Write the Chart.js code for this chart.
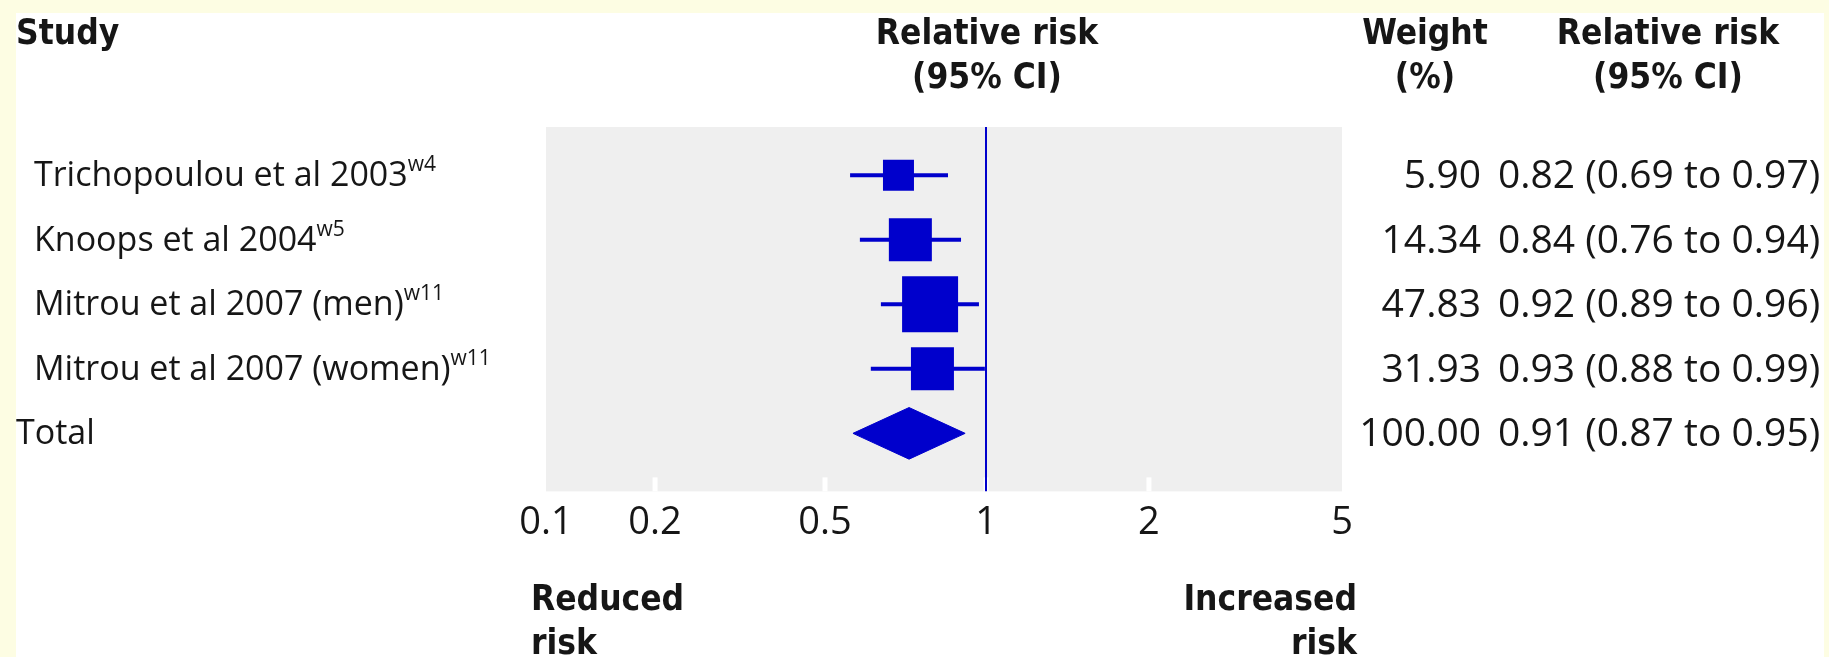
<!DOCTYPE html>
<html>
<head>
<meta charset="utf-8">
<script src="https://cdn.jsdelivr.net/npm/chart.js@4"></script>
<style>
    html, body { margin: 0; padding: 0; }
    body {
        width: 1829px; height: 657px; position: relative; overflow: hidden;
        background: #fdfde3; color: #161616;
        font-family: "Open Sans", "Noto Sans", sans-serif;
    }
    #paper { position: absolute; left: 16px; top: 13px; width: 1808px; height: 644px; background: #fff; }
    #chart { position: absolute; left: 0; top: 0; }
    .t { position: absolute; white-space: nowrap; }
    .hd { font-family: "DejaVu Sans Condensed", "DejaVu Sans", sans-serif; font-weight: bold; font-size: 35px; line-height: 44px; }
    .row { font-size: 34px; line-height: 44px; }
    .num { font-size: 39px; line-height: 44px; }
    .row sup { font-size: 21px; line-height: 0; vertical-align: 0; position: relative; top: -15px; }
</style>
</head>
<body>
<div id="paper"></div>
<canvas id="chart" width="1829" height="657"></canvas>

<div class="t hd" style="left:16px; top:10px;">Study</div>
<div class="t hd" style="left:837px; top:10px; width:300px; text-align:center;">Relative risk<br>(95% CI)</div>
<div class="t hd" style="left:1325px; top:10px; width:200px; text-align:center;">Weight<br>(%)</div>
<div class="t hd" style="left:1518px; top:10px; width:300px; text-align:center;">Relative risk<br>(95% CI)</div>
<div class="t hd" style="left:531px; top:576px;">Reduced<br>risk</div>
<div class="t hd" style="right:472px; top:576px; text-align:right;">Increased<br>risk</div>

<div id="rows"></div>

<script>
// Study rows, top to bottom (last row is the pooled total)
const studies = ['Trichopoulou et al 2003', 'Knoops et al 2004', 'Mitrou et al 2007 (men)', 'Mitrou et al 2007 (women)', 'Total'];
const refs = ['w4', 'w5', 'w11', 'w11', ''];
const weights = ['5.90', '14.34', '47.83', '31.93', '100.00'];
const rrText = ['0.82 (0.69 to 0.97)', '0.84 (0.76 to 0.94)', '0.92 (0.89 to 0.96)', '0.93 (0.88 to 0.99)', '0.91 (0.87 to 0.95)'];

// Where the marks sit on the figure's axis
const plotEst = [0.686, 0.722, 0.786, 0.794, 0.718];
const plotLow = [0.557, 0.581, 0.636, 0.609, 0.564];
const plotHigh = [0.849, 0.898, 0.970, 0.995, 0.914];

const tickValues = [0.1, 0.2, 0.5, 1, 2, 5];

// The printed axis is not evenly spaced: fraction of the axis width at each tick
const tickStops = [0, 0.137, 0.3505, 0.5528, 0.7575, 1];
const boxSide = [31, 43, 56, 43];   // px, square markers
const BLUE = '#0000cc';
const Y_MIN = -0.75, Y_MAX = 4.9;
const TOTAL = studies.length - 1;

// piecewise log scale running through the printed tick positions
class ForestLogScale extends Chart.LinearScale {
    determineDataLimits() {
        this.min = tickValues[0];
        this.max = tickValues[tickValues.length - 1];
    }
    buildTicks() {
        return tickValues.map(v => ({ value: v }));
    }
    toDecimal(v) {
        const lv = Math.log10(v);
        let i = 0;
        while (i < tickValues.length - 2 && v > tickValues[i + 1]) i++;
        const a = Math.log10(tickValues[i]), b = Math.log10(tickValues[i + 1]);
        return tickStops[i] + (lv - a) / (b - a) * (tickStops[i + 1] - tickStops[i]);
    }
    getPixelForValue(v) {
        return this.getPixelForDecimal(this.toDecimal(v));
    }
    getValueForPixel(p) {
        const d = this.getDecimalForPixel(p);
        let i = 0;
        while (i < tickStops.length - 2 && d > tickStops[i + 1]) i++;
        const a = Math.log10(tickValues[i]), b = Math.log10(tickValues[i + 1]);
        return Math.pow(10, a + (d - tickStops[i]) / (tickStops[i + 1] - tickStops[i]) * (b - a));
    }
}
ForestLogScale.id = 'forestlog';
ForestLogScale.defaults = Chart.LinearScale.defaults;
Chart.register(ForestLogScale);

// row texts
const rowsEl = document.getElementById('rows');
const rowEls = studies.map((s, i) => {
    const lab = document.createElement('div');
    lab.className = 't row';
    lab.style.left = (i === TOTAL ? 16 : 34) + 'px';
    lab.innerHTML = s + (refs[i] ? '<sup>' + refs[i] + '</sup>' : '');
    const w = document.createElement('div');
    w.className = 't num';
    w.style.right = '348px';
    w.textContent = weights[i];
    const rr = document.createElement('div');
    rr.className = 't num';
    rr.style.left = '1498px';
    rr.textContent = rrText[i];
    rowsEl.append(lab, w, rr);
    return [lab, w, rr];
});

const plotBg = {
    id: 'plotBg',
    beforeDatasetsDraw(chart) {
        const { ctx, chartArea: a, scales: { x } } = chart;
        ctx.save();
        ctx.fillStyle = '#efefef';
        ctx.fillRect(a.left, a.top, a.right - a.left, a.bottom - a.top);
        ctx.fillStyle = '#ffffff';
        tickValues.slice(1, -1).forEach(v => {
            const px = x.getPixelForValue(v);
            ctx.fillRect(px - 2.5, a.bottom - 14, 5, 14);
        });
        ctx.restore();
    },
    afterLayout(chart) {
        const y = chart.scales.y;
        rowEls.forEach((els, i) => {
            const py = y.getPixelForValue(i);
            els.forEach(el => { el.style.top = (py - 24) + 'px'; });
        });
    }
};

const whiskers = studies.slice(0, TOTAL).map((s, i) => ({
    type: 'line',
    data: [{ x: plotLow[i], y: i }, { x: plotHigh[i], y: i }],
    borderColor: BLUE, borderWidth: 4, pointRadius: 0, order: 2
}));

new Chart(document.getElementById('chart'), {
    type: 'scatter',
    data: {
        datasets: [
            {
                type: 'line',
                data: [{ x: 1, y: Y_MIN }, { x: 1, y: Y_MAX }],
                borderColor: BLUE, borderWidth: 2, pointRadius: 0, order: 3
            },
            ...whiskers,
            {
                data: plotEst.slice(0, TOTAL).map((v, i) => ({ x: v, y: i })),
                pointStyle: 'rect',
                pointRadius: boxSide.map(s => s / Math.SQRT2),
                backgroundColor: BLUE, borderWidth: 0, order: 1
            },
            {
                type: 'line',
                data: [
                    { x: plotLow[TOTAL], y: TOTAL },
                    { x: plotEst[TOTAL], y: TOTAL - 0.4 },
                    { x: plotHigh[TOTAL], y: TOTAL },
                    { x: plotEst[TOTAL], y: TOTAL + 0.4 },
                    { x: plotLow[TOTAL], y: TOTAL }
                ],
                borderColor: BLUE, backgroundColor: BLUE, borderWidth: 1,
                fill: 'shape', tension: 0, pointRadius: 0, order: 1
            }
        ]
    },
    options: {
        responsive: false,
        animation: false,
        layout: { padding: { left: 546, right: 487, top: 127, bottom: 102 } },
        plugins: { legend: { display: false }, tooltip: { enabled: false } },
        scales: {
            x: {
                type: 'forestlog',
                position: 'bottom',
                grid: { display: false, drawTicks: false },
                border: { display: false },
                ticks: {
                    autoSkip: false, maxRotation: 0, padding: 9,
                    color: '#161616',
                    font: { family: '"Open Sans", sans-serif', size: 38 },
                    callback: v => String(v)
                }
            },
            y: { type: 'linear', display: false, reverse: true, min: Y_MIN, max: Y_MAX }
        }
    },
    plugins: [plotBg]
});
</script>
</body>
</html>
